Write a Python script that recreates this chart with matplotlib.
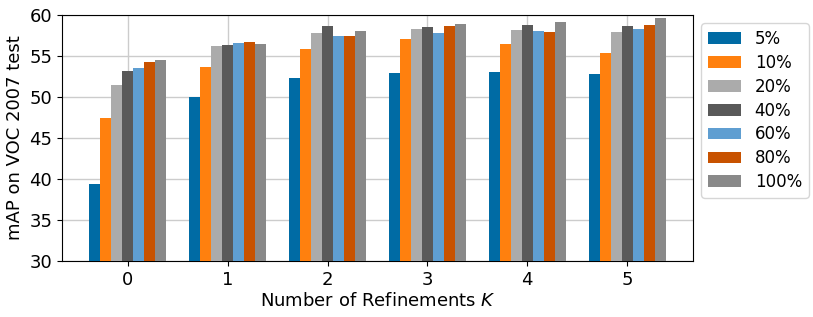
import numpy as np
import matplotlib
matplotlib.use('Agg')
import matplotlib.pyplot as plt

refinements = [0, 1, 2, 3, 4, 5]
labels = ['5%', '10%', '20%', '40%', '60%', '80%', '100%']
colors = ['#006BA4', '#FF800E', '#ABABAB', '#595959', '#5F9ED1', '#C85200', '#898989']

map_5 = [39.4, 50.0, 52.3, 52.9, 53.1, 52.8]
map_10 = [47.4, 53.7, 55.8, 57.1, 56.5, 55.4]
map_20 = [51.5, 56.2, 57.8, 58.3, 58.2, 57.9]
map_40 = [53.2, 56.4, 58.7, 58.5, 58.8, 58.7]
map_60 = [53.5, 56.6, 57.5, 57.8, 58.0, 58.3]
map_80 = [54.3, 56.7, 57.4, 58.6, 57.9, 58.8]
map_100 = [54.5, 56.5, 58.1, 58.9, 59.2, 59.6]
series = [map_5, map_10, map_20, map_40, map_60, map_80, map_100]

fig = plt.figure(figsize=(8.13, 3.17), dpi=100)
ax = fig.add_axes([62 / 813, 1 - 261 / 317, (693 - 62) / 813, (261 - 15) / 317])

x = np.array(refinements)
width = 0.11
for i, vals in enumerate(series):
    ax.bar(x + (i - 3) * width, np.array(vals) - 30, width, bottom=30,
           color=colors[i], label=labels[i], zorder=3)

ax.set_xlim(-0.66, 5.66)
ax.set_ylim(30, 60)
ax.set_xticks(refinements)
ax.set_yticks(range(30, 61, 5))
ax.tick_params(labelsize=13)
ax.grid(True, color='#cccccc', linewidth=1, zorder=0)
ax.set_xlabel('Number of Refinements $K$', fontsize=13, labelpad=2)
ax.set_ylabel('mAP on VOC 2007 test', fontsize=13)
ax.legend(loc='upper left', bbox_to_anchor=(1.0, 1.0), fontsize=12,
          labelspacing=0.35)

fig.savefig('out.png', dpi=100)
